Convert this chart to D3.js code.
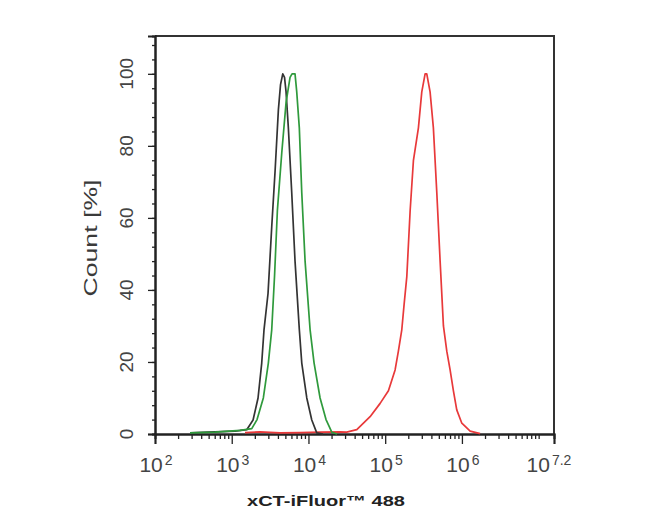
<!DOCTYPE html>
<html>
<head>
<meta charset="utf-8">
<script src="https://cdn.jsdelivr.net/npm/d3@7"></script>
<style>
  body { margin: 0; background: #fff; }
  text { font-family: "Liberation Sans", Arial, sans-serif; }
</style>
</head>
<body>
<div id="chart"></div>
<script>
// Fluorescence intensity (x) and count in % (y) for each histogram
var blackX = [286, 605, 1104, 1570, 1897, 2203, 2460, 2636, 2972, 3323, 3673, 4055, 4325, 4624, 4877, 5105, 5470, 6053, 6683, 7601, 8180, 9508, 11045, 12830, 15490];
var blackY = [0.3, 0.6, 0.8, 1.2, 3.9, 10, 19.7, 29, 39, 57.6, 73, 90, 97, 100, 99, 95, 85, 67, 48, 29, 19.7, 10, 3.9, 0.3, 0];

var greenX = [286, 605, 1282, 1824, 2138, 2582, 3000, 3323, 3616, 3934, 4487, 5105, 5754, 6111, 6683, 7033, 7601, 8180, 9036, 10497, 11840, 14170, 16940, 20130, 23590];
var greenY = [0.3, 0.5, 1, 1.5, 4, 10, 19.7, 29, 44, 62, 78, 92, 99, 100, 100, 95, 85, 67, 48, 29, 19.7, 10, 4, 0.5, 0];

var redX = [1489, 2339, 4266, 7762, 14170, 25820, 31550, 42640, 63550, 85900, 110200, 134600, 148600, 164700, 176400, 191300, 211400, 233400, 271000, 299800, 331300, 348300, 384600, 424600, 470600, 519800, 574100, 635000, 701400, 774800, 856400, 997000, 1280000, 1726000];
var redY = [0.4, 0.6, 0.3, 0.4, 0.5, 0.6, 0.5, 1.2, 4.8, 8.5, 12, 17.8, 23, 29, 36, 43.7, 62, 76, 85, 95, 100, 100, 95, 85, 67, 48, 30, 23, 17.8, 12, 6.7, 3, 0.8, 0.1];

// tick labels
var xTickExps = [2, 3, 4, 5, 6, 7.2];
var yTicks = [0, 20, 40, 60, 80, 100];

var width = 650, height = 520;
var plotLeft = 155, plotRight = 554, plotTop = 36, plotBottom = 434;

var svg = d3.select("#chart").append("svg")
  .attr("width", width).attr("height", height);

var x = d3.scaleLog().domain([100, Math.pow(10, 7.2)]).range([plotLeft, plotRight]);
var y = d3.scaleLinear().domain([0, 110.5]).range([plotBottom, plotTop]);

// frame (top and right)
svg.append("path")
  .attr("d", "M" + plotLeft + "," + plotTop + "H" + plotRight + "V" + plotBottom)
  .attr("fill", "none").attr("stroke", "#333").attr("stroke-width", 2);

// y axis: minor ticks every 4, major every 20
var yMinor = d3.range(0, 110, 4);
var yAxisMinor = d3.axisLeft(y).tickValues(yMinor).tickSize(3).tickFormat("");
var yAxisMajor = d3.axisLeft(y).tickValues(yTicks).tickSize(7).tickFormat("");
svg.append("g").attr("transform", "translate(" + plotLeft + ",0)").call(yAxisMinor);
svg.append("g").attr("transform", "translate(" + plotLeft + ",0)").call(yAxisMajor);

// x axis: log minor ticks
var xMinor = [];
for (var k = 2; k <= 7; k++) {
  for (var m = 1; m <= 9; m++) {
    var v = m * Math.pow(10, k);
    if (m > 1 || k == 7) { if (v <= Math.pow(10, 7.2)) xMinor.push(v); }
  }
}
var xMajor = xTickExps.map(function(e) { return Math.pow(10, e); });
svg.append("g").attr("transform", "translate(0," + plotBottom + ")")
  .call(d3.axisBottom(x).tickValues(xMinor).tickSize(5).tickFormat(""));
svg.append("g").attr("transform", "translate(0," + plotBottom + ")")
  .call(d3.axisBottom(x).tickValues(xMajor).tickSize(10).tickFormat(""));

svg.selectAll(".domain").attr("stroke", "#222").attr("stroke-width", 2);
svg.selectAll(".tick line").attr("stroke", "#222").attr("stroke-width", 1.3);

// y tick labels (rotated)
svg.selectAll(".ylab").data(yTicks).enter().append("text")
  .attr("class", "ylab")
  .attr("transform", function(d) { return "translate(133," + y(d) + ") rotate(-90)"; })
  .attr("text-anchor", "middle")
  .attr("font-size", 19)
  .attr("fill", "#444")
  .text(function(d) { return d; });

// x tick labels: 10 with superscript exponent
var xl = svg.selectAll(".xlab").data(xTickExps).enter().append("text")
  .attr("class", "xlab")
  .attr("x", function(d, i) { return x(Math.pow(10, d)) + (i == xTickExps.length - 1 ? -5 : 1); })
  .attr("y", 472)
  .attr("text-anchor", "middle")
  .attr("fill", "#444");
xl.append("tspan").attr("font-size", 21).text("10");
xl.append("tspan").attr("font-size", 14).attr("dx", 2).attr("dy", -7)
  .text(function(d) { return d; });

// axis titles
svg.append("text")
  .attr("transform", "translate(97,238) rotate(-90)")
  .attr("text-anchor", "middle")
  .attr("font-size", 18)
  .attr("fill", "#3a3a3a")
  .attr("textLength", 117)
  .attr("lengthAdjust", "spacingAndGlyphs")
  .text("Count [%]");

svg.append("text")
  .attr("x", 326).attr("y", 506)
  .attr("text-anchor", "middle")
  .attr("font-size", 15)
  .attr("font-weight", "bold")
  .attr("fill", "#222")
  .attr("textLength", 158)
  .attr("lengthAdjust", "spacingAndGlyphs")
  .text("xCT-iFluor\u2122 488");

// histograms
var series = [
  { xs: redX, ys: redY, color: "#e8393a" },
  { xs: blackX, ys: blackY, color: "#333333" },
  { xs: greenX, ys: greenY, color: "#2f9a3c" }
];

var line = d3.line()
  .x(function(d) { return x(d[0]); })
  .y(function(d) { return y(d[1]); });

series.forEach(function(s) {
  var pts = s.xs.map(function(v, i) { return [v, s.ys[i]]; });
  svg.append("path")
    .datum(pts)
    .attr("d", line)
    .attr("fill", "none")
    .attr("stroke", s.color)
    .attr("stroke-width", 1.7)
    .attr("stroke-linejoin", "round");
});
</script>
</body>
</html>
